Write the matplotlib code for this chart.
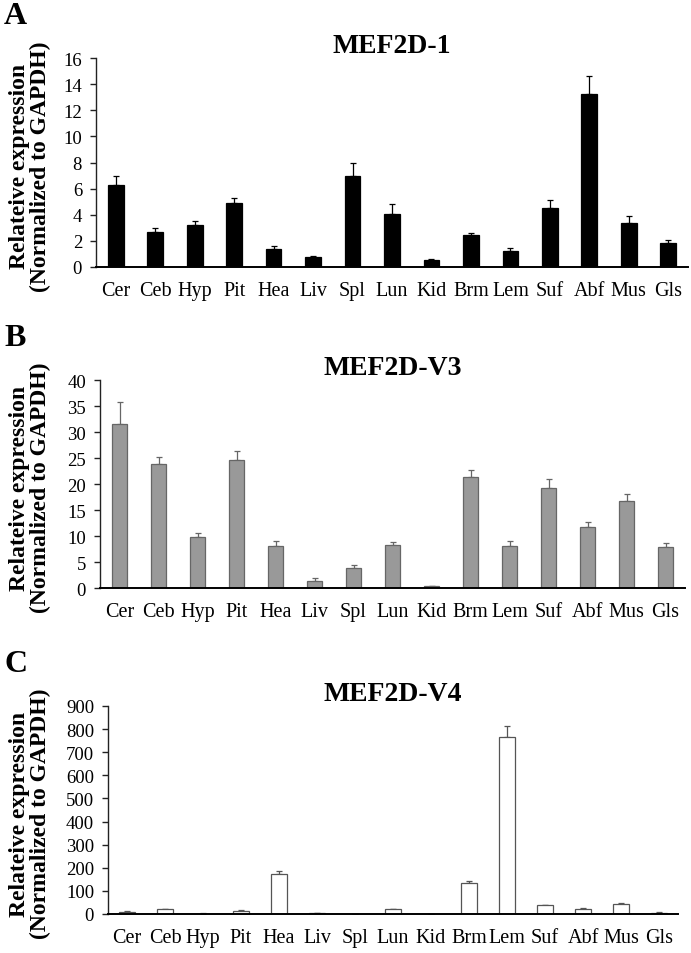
import matplotlib
matplotlib.use("Agg")
import matplotlib.pyplot as plt

tissues = ["Cer", "Ceb", "Hyp", "Pit", "Hea", "Liv", "Spl", "Lun",
           "Kid", "Brm", "Lem", "Suf", "Abf", "Mus", "Gls"]

# MEF2D-1
mef1 = [6.3, 2.7, 3.25, 4.9, 1.35, 0.75, 7.0, 4.05, 0.55, 2.45, 1.2, 4.55, 13.25, 3.4, 1.85]
mef1_err = [0.7, 0.3, 0.25, 0.4, 0.25, 0.1, 0.95, 0.75, 0.1, 0.15, 0.25, 0.6, 1.4, 0.5, 0.2]

# MEF2D-V3
v3 = [31.6, 23.8, 9.8, 24.6, 8.1, 1.3, 3.9, 8.3, 0.4, 21.3, 8.0, 19.3, 11.8, 16.7, 7.8]
v3_err = [4.2, 1.4, 0.7, 1.8, 1.0, 0.7, 0.5, 0.6, 0.0, 1.4, 1.1, 1.7, 0.9, 1.4, 0.9]

# MEF2D-V4
v4 = [10, 20, 2, 14, 175, 3, 0, 20, 0, 133, 765, 37, 22, 42, 6]
v4_err = [2, 2, 1, 2, 10, 1, 0, 3, 0, 8, 47, 4, 3, 4, 2]

plt.rcParams["font.family"] = ["Liberation Serif", "DejaVu Serif"]

W, H = 691, 954
fig = plt.figure(figsize=(W / 100, H / 100), dpi=100)

# (letter, title, values, errors, face, edge, bar width, ymax, step,
#  axes box in pixels: left, top, right, bottom)
panels = [
    ("A", "MEF2D-1", mef1, mef1_err, "black", "black", 0.40, 16, 2,
     (96, 59, 688, 268)),
    ("B", "MEF2D-V3", v3, v3_err, "#999999", "#666666", 0.40, 40, 5,
     (100, 381, 685, 589)),
    ("C", "MEF2D-V4", v4, v4_err, "white", "#555555", 0.42, 900, 100,
     (108, 707, 678, 915)),
]

for letter, title, vals, errs, fc, ec, w, ymax, step, box in panels:
    l, t, r, b = box
    ax = fig.add_axes([l / W, 1 - b / H, (r - l) / W, (b - t) / H])
    x = range(len(tissues))
    ax.bar(x, vals, width=w, color=fc, edgecolor=ec, linewidth=0.9, zorder=2)
    ax.errorbar(x, vals, yerr=[[0] * len(errs), errs], fmt="none",
                ecolor=ec, elinewidth=0.9, capsize=2.5, capthick=0.9, zorder=1)
    ax.set_xlim(-0.5, len(tissues) - 0.5)
    ax.set_ylim(0, ymax)
    ax.set_yticks(range(0, ymax + 1, step))
    ax.set_xticks(list(x))
    ax.set_xticklabels(tissues)
    ax.tick_params(axis="x", length=0, pad=10, labelsize=14.5)
    ax.tick_params(axis="y", direction="out", length=4, width=1.0,
                   labelsize=13.5, pad=6, color="#222222")
    for s in ("top", "right"):
        ax.spines[s].set_visible(False)
    ax.spines["left"].set_color("#222222")
    ax.spines["left"].set_linewidth(1.0)
    ax.spines["bottom"].set_linewidth(1.4)
    ax.set_title(title, fontsize=20, fontweight="bold", pad=4)
    fig.text(30 / W, 1 - (t + b + 6) / 2 / H,
             "Relateive expression\n(Normalized to GAPDH)",
             rotation=90, ha="center", va="center", fontsize=17,
             fontweight="bold", linespacing=1.0)
    fig.text(4 / W, 1 - (t - 43) / H, letter, fontsize=23, fontweight="bold",
             va="center", ha="left")

fig.savefig("out.png")
